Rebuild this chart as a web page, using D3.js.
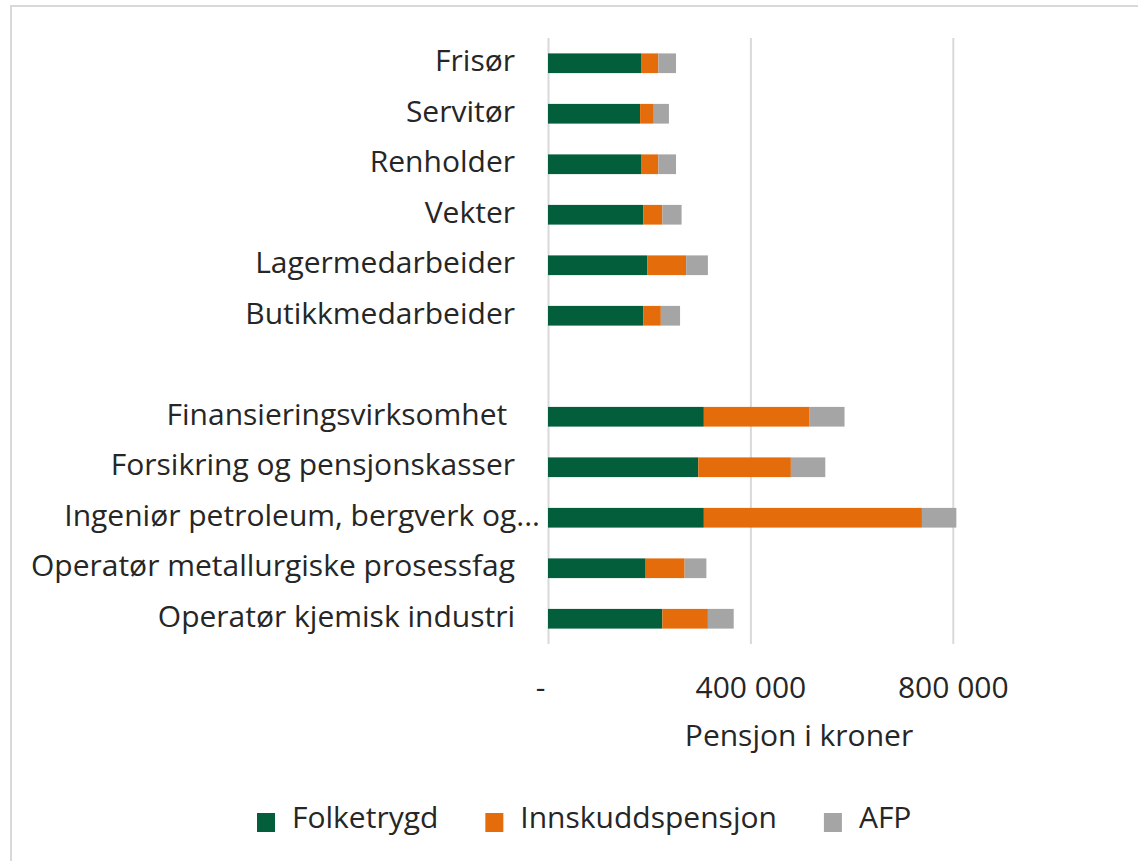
<!DOCTYPE html>
<html>
<head>
<meta charset="utf-8">
<script src="https://cdn.jsdelivr.net/npm/d3@7"></script>
<style>
  body { margin: 0; background: #fff; }
  text { font-family: "Open Sans", sans-serif; fill: #262626; }
</style>
</head>
<body>
<svg width="1138" height="861"></svg>
<script>
// categories, top to bottom ('' = empty gap row)
const categories = [
  'Frisør', 'Servitør', 'Renholder', 'Vekter', 'Lagermedarbeider', 'Butikkmedarbeider',
  '',
  'Finansieringsvirksomhet ', 'Forsikring og pensjonskasser', 'Ingeniør petroleum, bergverk og...',
  'Operatør metallurgiske prosessfag', 'Operatør kjemisk industri'
];

// pension in kroner
const folketrygd       = [185000, 182000, 185000, 188000, 196000, 188000, null, 308000, 297000, 308000, 193000, 226000];
const innskuddspensjon = [33000, 27000, 33000, 38000, 77000, 35000, null, 208000, 183000, 431000, 77000, 90000];
const afp              = [35000, 30000, 35000, 38000, 43000, 38000, null, 70000, 68000, 68000, 43000, 51000];

const seriesNames = ['Folketrygd', 'Innskuddspensjon', 'AFP'];
const colors = ['#035e3c', '#e46c0a', '#a5a5a5'];
const xTicks = [0, 400000, 800000];

const svg = d3.select('svg');
const fs = '30px';

// outer frame
svg.append('rect')
  .attr('x', 11).attr('y', 6)
  .attr('width', 1140).attr('height', 870)
  .attr('fill', 'none')
  .attr('stroke', '#d9d9d9')
  .attr('stroke-width', 2);

const x = d3.scaleLinear().domain([0, 1000000]).range([548, 1054]);
const y = d3.scaleBand().domain(categories).range([38, 644])
  .paddingInner(0.61).paddingOuter(0.305);

// gridlines (incl. zero line)
const grid = svg.append('g').attr('transform', 'translate(0,644)')
  .call(d3.axisBottom(x).tickValues(xTicks).tickSize(-606).tickFormat(''));
grid.select('.domain').remove();
grid.selectAll('line').attr('stroke', '#d9d9d9').attr('stroke-width', 2);

// stacked bars
const rows = categories.map((c, i) => ({
  name: c, Folketrygd: folketrygd[i], Innskuddspensjon: innskuddspensjon[i], AFP: afp[i]
})).filter(d => d.Folketrygd != null);

const stack = d3.stack().keys(seriesNames)(rows);

svg.append('g').selectAll('g')
  .data(stack)
  .join('g')
  .attr('fill', (d, i) => colors[i])
  .selectAll('rect')
  .data(d => d)
  .join('rect')
  .attr('x', d => x(d[0]))
  .attr('width', d => x(d[1]) - x(d[0]))
  .attr('y', d => y(d.data.name))
  .attr('height', y.bandwidth());

// y axis labels
const yAxis = svg.append('g').attr('transform', 'translate(548,0)')
  .call(d3.axisLeft(y).tickSize(0).tickPadding(33));
yAxis.select('.domain').remove();
yAxis.selectAll('text')
  .style('font-size', fs)
  .style('white-space', 'pre')
  .attr('fill', '#262626')
  .attr('dy', 8);
yAxis.selectAll('text').filter(d => d.endsWith('...')).attr('dx', 25);

// x axis labels
const xAxis = svg.append('g').attr('transform', 'translate(0,644)')
  .call(d3.axisBottom(x).tickValues(xTicks).tickSize(0)
    .tickFormat(d => d === 0 ? '-' : d3.format(',')(d).replace(/,/g, ' ')));
xAxis.select('.domain').remove();
xAxis.selectAll('text')
  .style('font-size', fs)
  .attr('fill', '#262626')
  .attr('y', 54).attr('dy', 0);
xAxis.selectAll('text').filter(d => d === 0).attr('dx', -8);

svg.append('text')
  .attr('x', 799).attr('y', 746)
  .attr('text-anchor', 'middle')
  .style('font-size', fs)
  .text('Pensjon i kroner');

// legend
const legend = svg.append('g');
let lx = 257;
seriesNames.forEach((s, i) => {
  legend.append('rect')
    .attr('x', lx).attr('y', 813)
    .attr('width', 18).attr('height', 19)
    .attr('fill', colors[i]);
  const t = legend.append('text')
    .attr('x', lx + 35).attr('y', 828)
    .style('font-size', fs)
    .text(s);
  lx += 35 + t.node().getComputedTextLength() + 47;
});
</script>
</body>
</html>
